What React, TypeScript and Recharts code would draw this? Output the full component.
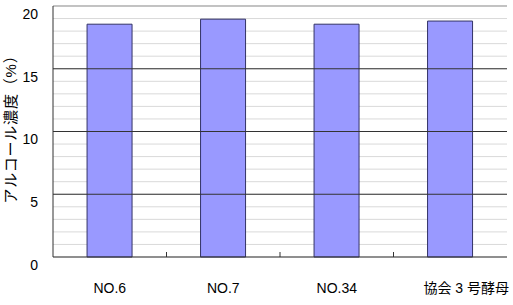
import { BarChart, Bar, XAxis, YAxis, CartesianGrid, ReferenceLine } from "recharts";

const strains = ["NO.6", "NO.7", "NO.34", "協会 3 号酵母"];
const alcohol = [18.55, 18.95, 18.55, 18.8];
const yTicks = Array.from({ length: 21 }, (_, i) => i);
const majorTicks = [5, 10, 15];

const data = strains.map((name, i) => ({ name, alcohol: alcohol[i] }));

const font = "'Liberation Sans', Arial, 'Noto Sans CJK JP', sans-serif";

function StrainTick(props: any) {
  const { x, y, payload, index } = props;
  const half = payload.offset ?? 56.75;
  const axisY = y - 26;
  const shift = index === strains.length - 1 ? 16 : 0;
  return (
    <g>
      {index < strains.length - 1 && (
        <line x1={x + half} x2={x + half} y1={axisY} y2={axisY - 5} stroke="#333" />
      )}
      <text
        x={x + shift}
        y={y}
        dy="0.71em"
        textAnchor="middle"
        fontSize={14}
        fill="#000"
        fontFamily={font}
      >
        {payload.value}
      </text>
    </g>
  );
}

function ValueTick(props: any) {
  const { x, y, payload } = props;
  if (payload.value % 5 !== 0) return <g />;
  return (
    <text
      x={x}
      y={y + 8}
      dy="0.355em"
      textAnchor="end"
      fontSize={14}
      fill="#000"
      fontFamily={font}
    >
      {payload.value}
    </text>
  );
}

function AxisTitle(props: any) {
  const vb = props.viewBox || { y: 6, height: 251 };
  const cx = 10;
  const cy = vb.y + vb.height / 2 - 6;
  return (
    <text
      x={cx}
      y={cy}
      transform={`rotate(-90 ${cx} ${cy})`}
      textAnchor="middle"
      dominantBaseline="central"
      fontSize={15}
      letterSpacing={0.8}
      fill="#000"
      fontFamily={font}
    >
      アルコール濃度（%）
    </text>
  );
}

export default function App() {
  return (
    <div style={{ position: "absolute", left: 0, top: 0, background: "#fff" }}>
      <BarChart
        width={513}
        height={305}
        data={data}
        margin={{ top: 6, right: 6, bottom: 0, left: 0 }}
        barCategoryGap="30%"
      >
        <CartesianGrid vertical={false} stroke="#d9d9d9" />
        <XAxis
          dataKey="name"
          height={48}
          tickSize={0}
          tickMargin={26}
          stroke="#333"
          tick={<StrainTick />}
          interval={0}
        />
        <YAxis
          width={53}
          domain={[0, 20]}
          ticks={yTicks}
          interval={0}
          tickSize={0}
          tickMargin={15}
          tick={<ValueTick />}
          stroke="#333"
          label={<AxisTitle />}
        />
        <YAxis yAxisId="right" orientation="right" width={0} tick={false} stroke="#999" />
        {majorTicks.map((t) => (
          <ReferenceLine key={t} y={t} stroke="#333" />
        ))}
        <ReferenceLine y={20} stroke="#999" />
        <Bar
          dataKey="alcohol"
          fill="#9999ff"
          stroke="#333366"
          strokeWidth={1}
          isAnimationActive={false}
        />
      </BarChart>
    </div>
  );
}
